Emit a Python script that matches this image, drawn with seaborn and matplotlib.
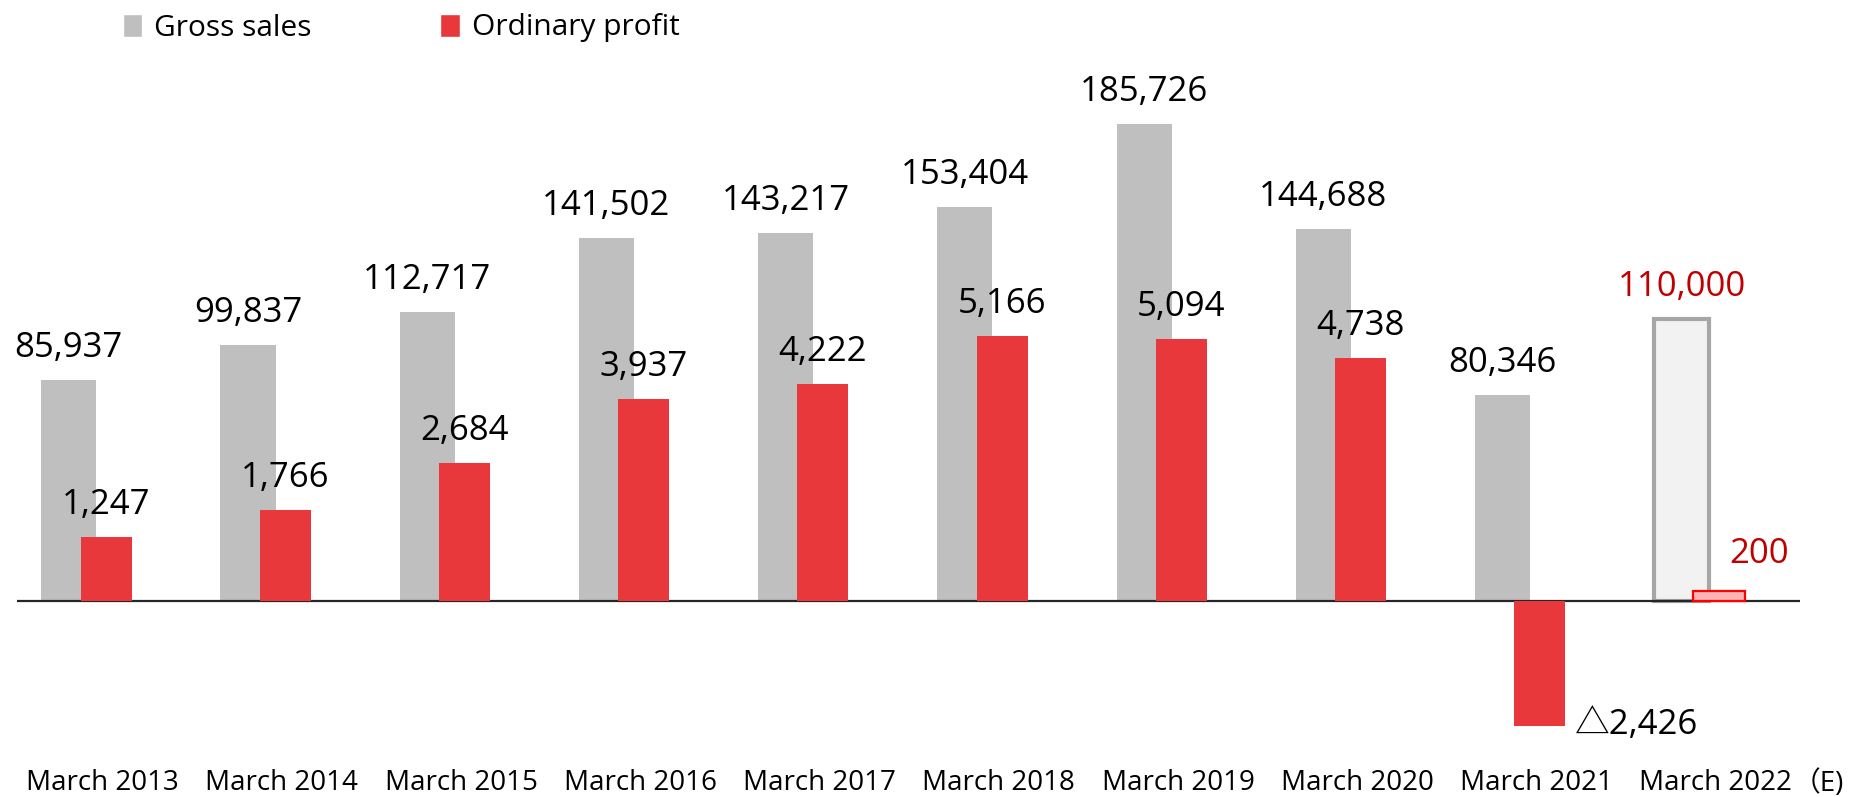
import matplotlib
matplotlib.use("Agg")
import matplotlib.pyplot as plt
import numpy as np
import seaborn as sns
from matplotlib.patches import Patch

years = ["March 2013", "March 2014", "March 2015", "March 2016", "March 2017",
         "March 2018", "March 2019", "March 2020", "March 2021", "March 2022"]
gross_sales = [85937, 99837, 112717, 141502, 143217, 153404, 185726, 144688, 80346, 110000]
ordinary_profit = [1247, 1766, 2684, 3937, 4222, 5166, 5094, 4738, -2426, 200]

GRAY = "#BFBFBF"
RED = "#E8383B"
DARK_RED = "#C00000"

sns.set_style("white")
plt.rcParams["font.family"] = ["Open Sans", "Noto Sans CJK JP", "DejaVu Sans"]
plt.rcParams["text.color"] = "black"
plt.rcParams["xtick.color"] = "black"

fig = plt.figure(figsize=(18.52, 7.97), dpi=100)
W, H = 1852, 797
# axes placed in pixel terms: left 17, right 1800, top 60, bottom 750
ax = fig.add_axes([17 / W, (H - 750) / H, 1783 / W, 690 / H])
ax2 = ax.twinx()

idx = np.arange(len(years))
sns.barplot(x=idx - 0.104, y=gross_sales, native_scale=True, width=0.307,
            color=GRAY, saturation=1, linewidth=0, ax=ax)
sns.barplot(x=idx + 0.104, y=ordinary_profit, native_scale=True, width=0.285,
            color=RED, saturation=1, linewidth=0, ax=ax2)

# forecast bars for the last year
last_sales = ax.patches[-1]
last_sales.set_facecolor("#F2F2F2")
last_sales.set_edgecolor("#A6A6A6")
last_sales.set_linewidth(3)
last_profit = ax2.patches[-1]
last_profit.set_facecolor("#FFB3B3")
last_profit.set_edgecolor("#FF0000")
last_profit.set_linewidth(1.6)

# shared zero line; profit axis is 1/20 of the sales axis
k = 0.002568  # px per unit of sales
ax.set_ylim(-149 / k, 541 / k)
ax2.set_ylim(-149 / (k * 20), 541 / (k * 20))
for a in (ax, ax2):
    a.set_xlim(-0.393, 9.556)
    a.set_ylabel("")
    a.set_yticks([])
    for s in a.spines.values():
        s.set_visible(False)
ax.axhline(0, color="#262626", lw=1.6, zorder=5)

for i, v in enumerate(gross_sales):
    c = DARK_RED if i == len(years) - 1 else "black"
    ax.annotate(f"{v:,}", (i - 0.104, v), xytext=(0, 23), textcoords="offset pixels",
                ha="center", va="baseline", fontsize=25, color=c)

for i, v in enumerate(ordinary_profit):
    if v < 0:
        ax2.annotate(f"△{abs(v):,}", (i + 0.104 + 0.285 / 2, v), xytext=(10, -8),
                     textcoords="offset pixels", ha="left", va="baseline", fontsize=25)
    elif i == len(years) - 1:
        ax2.annotate(f"{v:,}", (i + 0.104, v), xytext=(40, 28), textcoords="offset pixels",
                     ha="center", va="baseline", fontsize=25, color=DARK_RED)
    else:
        ax2.annotate(f"{v:,}", (i + 0.104, v), xytext=(0, 23), textcoords="offset pixels",
                     ha="center", va="baseline", fontsize=25)

ax.set_xticks(idx + 0.085)
ax.set_xticklabels(years, fontsize=20)
ax.tick_params(axis="x", length=0, pad=14)
ax2.tick_params(axis="x", length=0)
ax.annotate("（E)", (9.085, 0), xycoords=("data", "axes fraction"), xytext=(77, -20),
            textcoords="offset pixels", ha="left", va="top", fontsize=20)

handles = [Patch(facecolor=GRAY, label="Gross sales"), Patch(facecolor=RED, label="Ordinary profit")]
fig.legend(handles=handles, loc="center left", bbox_to_anchor=(123 / W, 1 - 28 / H),
           ncol=2, frameon=False, fontsize=21.5, handlelength=0.65, handleheight=0.8,
           handletextpad=0.4, columnspacing=4.3, borderpad=0, borderaxespad=0)

fig.savefig("out.png", dpi=100)
